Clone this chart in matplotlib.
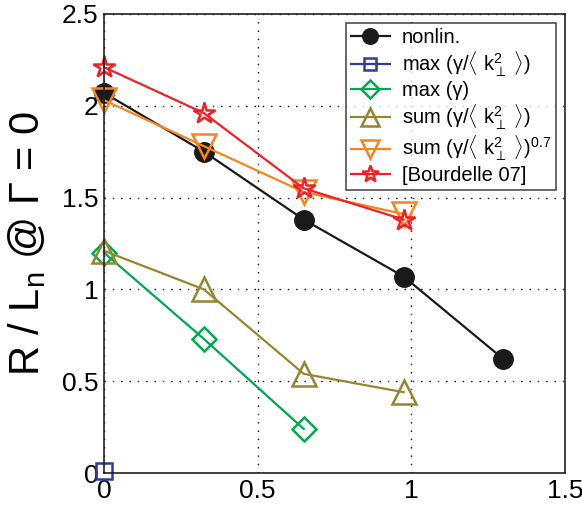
import numpy as np
import matplotlib
matplotlib.use("Agg")
import matplotlib.pyplot as plt

plt.rcParams['font.family'] = ['Liberation Sans', 'DejaVu Sans']
plt.rcParams['mathtext.fontset'] = 'custom'
plt.rcParams['mathtext.rm'] = 'Liberation Sans'
plt.rcParams['mathtext.it'] = 'Liberation Sans'

x = [0, 0.325, 0.65, 0.975, 1.3]

nonlin = [2.07, 1.75, 1.38, 1.07, 0.62]
max_gk = [0.01]
max_g = [1.20, 0.73, 0.24]
sum_gk = [1.21, 1.00, 0.54, 0.44]
sum_gk07 = [2.03, 1.78, 1.53, 1.41]
bourdelle = [2.21, 1.96, 1.55, 1.38]

labels = ['nonlin.',
          r'max (γ/$\langle$ k$_\perp^2$ $\rangle$)',
          r'max (γ)',
          r'sum (γ/$\langle$ k$_\perp^2$ $\rangle$)',
          r'sum (γ/$\langle$ k$_\perp^2$ $\rangle$)$^{0.7}$',
          '[Bourdelle 07]']

fig = plt.figure(figsize=(5.82, 5.09), dpi=100)
ax = fig.add_axes([0.1787, 0.0707, 0.792, 0.902])

lw = 1.6
kw = dict(lw=lw, clip_on=False)
ax.plot(x, nonlin, '-o', color='#1a1a1a', ms=14, label=labels[0], **kw)
ax.plot(x[:1], max_gk, '-s', color='#2e3c97', ms=11, mfc='none', mew=1.8, label=labels[1], **kw)
ax.plot(x[:3], max_g, '-D', color='#00a84f', ms=12, mfc='none', mew=1.8, label=labels[2], **kw)
ax.plot(x[:4], sum_gk, '-^', color='#978630', ms=17, mfc='none', mew=1.8, label=labels[3], **kw)
ax.plot(x[:4], sum_gk07, '-v', color='#f7841f', ms=17, mfc='none', mew=1.8, label=labels[4], **kw)
ax.plot(x[:4], bourdelle, '-*', color='#ee2226', ms=16, mfc='none', mew=1.8, label=labels[5], **kw)

ax.set_xlim(0, 1.5)
ax.set_ylim(0, 2.5)
ax.set_xticks([0, 0.5, 1, 1.5])
ax.set_xticklabels(['0', '0.5', '1', '1.5'])
ax.set_yticks([0, 0.5, 1, 1.5, 2, 2.5])
ax.set_yticklabels(['0', '0.5', '1', '1.5', '2', '2.5'])
ax.tick_params(labelsize=19, direction='in', length=0, pad=4)
ax.grid(True, color='black', linestyle=(0, (1, 5)), lw=1)
for s in ax.spines.values():
    s.set_linewidth(1.2)
    s.set_color('#222222')

ax.set_ylabel(r'R / L$_\mathregular{n}$ @ $\Gamma$ = 0', fontsize=30, labelpad=10)

leg = ax.legend(loc='upper right', bbox_to_anchor=(1.0, 1.0), fontsize=14.5,
                frameon=True, fancybox=False, edgecolor='#222222',
                handlelength=1.9, labelspacing=0.12, borderpad=0.25,
                handletextpad=0.6, markerscale=0.8, borderaxespad=0.45)
leg.get_frame().set_linewidth(1.2)

fig.savefig('out.png', dpi=100)
